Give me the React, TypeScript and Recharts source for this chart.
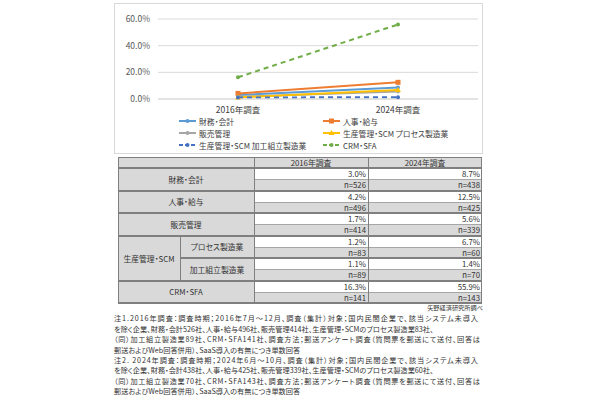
import React from 'react'
import { LineChart, Line, XAxis, YAxis, CartesianGrid, Legend } from 'recharts'

// survey rounds
const categories = ['2016年調査', '2024年調査']

// SaaS adoption rate (%) per system
const finance = [3.0, 8.7]
const hr = [4.2, 12.5]
const sales = [1.7, 5.6]
const scmProcess = [1.2, 6.7]
const scmAssembly = [1.1, 1.4]
const crm = [16.3, 55.9]

// sample sizes
const financeN = [526, 438]
const hrN = [496, 425]
const salesN = [414, 339]
const scmProcessN = [83, 60]
const scmAssemblyN = [89, 70]
const crmN = [141, 143]

const yTicks = [0, 20, 40, 60]

const notes = [
  '注1.2016年調査：調査時期；2016年7月～12月、調査（集計）対象；国内民間企業で、該当システム未導入',
  'を除く企業、財務・会計526社、人事・給与496社、販売管理414社、生産管理・SCMのプロセス製造業83社、',
  '（同）加工組立製造業89社、CRM・SFA141社、調査方法；郵送アンケート調査（質問票を郵送にて送付、回答は',
  '郵送およびWeb回答併用）、SaaS導入の有無につき単数回答',
  '注2. 2024年調査：調査時期；2024年6月～10月、調査（集計）対象；国内民間企業で、該当システム未導入',
  'を除く企業、財務・会計438社、人事・給与425社、販売管理339社、生産管理・SCMのプロセス製造業60社、',
  '（同）加工組立製造業70社、CRM・SFA143社、調査方法；郵送アンケート調査（質問票を郵送にて送付、回答は',
  '郵送およびWeb回答併用）、SaaS導入の有無につき単数回答',
]
// full-width lines are stretched to the text block width; others keep natural width
const noteWidths = [364, 0, 366, 0, 364, 0, 366, 0]

type Marker = 'circle' | 'square' | 'triangle'

const series: { key: string; name: string; color: string; dash?: string; marker: Marker; values: number[] }[] = [
  { key: 'finance', name: '財務・会計', color: '#5b9bd5', marker: 'circle', values: finance },
  { key: 'hr', name: '人事・給与', color: '#ed7d31', marker: 'square', values: hr },
  { key: 'sales', name: '販売管理', color: '#a5a5a5', marker: 'circle', values: sales },
  { key: 'scmProcess', name: '生産管理・SCM プロセス製造業', color: '#ffc000', marker: 'triangle', values: scmProcess },
  { key: 'scmAssembly', name: '生産管理・SCM 加工組立製造業', color: '#4472c4', dash: '5 4', marker: 'circle', values: scmAssembly },
  { key: 'crm', name: 'CRM・SFA', color: '#70ad47', dash: '5 4', marker: 'circle', values: crm },
]

const chartData = categories.map((cat, i) => {
  const row: Record<string, string | number> = { cat }
  series.forEach(s => { row[s.key] = s.values[i] })
  return row
})

const FONT = '"Noto Sans CJK JP", "Noto Sans", sans-serif'
const PALT = '"palt"'

function markerShape(shape: Marker, color: string, cx: number, cy: number, key?: string | number) {
  if (shape === 'square') return <rect key={key} x={cx - 2.5} y={cy - 2.5} width={5} height={5} fill={color} />
  if (shape === 'triangle')
    return <path key={key} d={`M${cx},${cy - 3}L${cx + 3},${cy + 2}L${cx - 3},${cy + 2}Z`} fill={color} />
  return <circle key={key} cx={cx} cy={cy} r={2} fill={color} />
}

function ChartLegend() {
  return (
    <div
      style={{
        position: 'relative',
        height: 36,
        fontFamily: FONT,
        fontSize: 7.8,
        color: '#404040',
        fontFeatureSettings: PALT,
      }}
    >
      {series.map((s, i) => {
        const col = i % 2
        const row = Math.floor(i / 2)
        return (
          <div
            key={s.key}
            style={{
              position: 'absolute',
              left: col === 0 ? 60 : 204,
              top: row * 12 - 3,
              height: 12,
              display: 'flex',
              alignItems: 'center',
              whiteSpace: 'nowrap',
            }}
          >
            <svg width={18} height={8} style={{ marginRight: 2 }}>
              <line x1={0} y1={4} x2={17} y2={4} stroke={s.color} strokeWidth={2} strokeDasharray={s.dash ? '4 2' : undefined} />
              {markerShape(s.marker, s.color, 8.5, 4)}
            </svg>
            {s.name}
          </div>
        )
      })}
    </div>
  )
}

// table layout
const colW = [62, 74, 114, 114]
const headH = 11
const groupH = 22.5
const tableRows = [
  { label: '財務・会計', values: finance, n: financeN },
  { label: '人事・給与', values: hr, n: hrN },
  { label: '販売管理', values: sales, n: salesN },
  { parent: '生産管理・SCM', label: 'プロセス製造業', values: scmProcess, n: scmProcessN },
  { parent: '生産管理・SCM', label: '加工組立製造業', values: scmAssembly, n: scmAssemblyN },
  { label: 'CRM・SFA', values: crm, n: crmN },
]

const GRAY = '#d9d9d9'
const LINE = '#7f7f7f'

function Cell({ x, y, w, h, bg, text, align = 'center' }: { x: number; y: number; w: number; h: number; bg: string; text?: string; align?: 'center' | 'right' }) {
  return (
    <div
      style={{
        position: 'absolute',
        left: x,
        top: y,
        width: w,
        height: h,
        background: bg,
        display: 'flex',
        alignItems: 'center',
        justifyContent: align === 'right' ? 'flex-end' : 'center',
        paddingRight: align === 'right' ? 2 : 0,
        boxSizing: 'border-box',
        whiteSpace: 'nowrap',
      }}
    >
      {text}
    </div>
  )
}

function HLine({ x, y, w, t = 1, c = LINE }: { x: number; y: number; w: number; t?: number; c?: string }) {
  return <div style={{ position: 'absolute', left: x, top: y, width: w, height: t, background: c }} />
}

function VLine({ x, y, h }: { x: number; y: number; h: number }) {
  return <div style={{ position: 'absolute', left: x, top: y, width: 1, height: h, background: LINE }} />
}

function DataTable() {
  const totalW = colW.reduce((a, b) => a + b, 0)
  const xSub = colW[0]
  const xV1 = colW[0] + colW[1]
  const xV2 = xV1 + colW[2]
  const totalH = headH + groupH * tableRows.length
  const cells: React.ReactNode[] = []
  const lines: React.ReactNode[] = []

  cells.push(<Cell key="h0" x={0} y={0} w={xV1} h={headH} bg={GRAY} />)
  categories.forEach((c, i) => {
    cells.push(<Cell key={'h' + (i + 1)} x={xV1 + colW[2] * i} y={0} w={colW[2 + i]} h={headH} bg={GRAY} text={c} />)
  })

  tableRows.forEach((r, g) => {
    const top = headH + g * groupH
    if (r.parent) {
      if (g === 3) cells.push(<Cell key={'p' + g} x={0} y={top} w={colW[0]} h={groupH * 2} bg={GRAY} text={r.parent} />)
      cells.push(<Cell key={'l' + g} x={xSub} y={top} w={colW[1]} h={groupH} bg={GRAY} text={r.label} />)
    } else {
      cells.push(<Cell key={'l' + g} x={0} y={top} w={xV1} h={groupH} bg={GRAY} text={r.label} />)
    }
    r.values.forEach((v, i) => {
      const x = i === 0 ? xV1 : xV2
      cells.push(<Cell key={`v${g}-${i}`} x={x} y={top} w={colW[2 + i]} h={groupH / 2} bg="#fff" text={v.toFixed(1) + '%'} align="right" />)
      cells.push(<Cell key={`n${g}-${i}`} x={x} y={top + groupH / 2} w={colW[2 + i]} h={groupH / 2} bg={GRAY} text={'n=' + r.n[i]} align="right" />)
    })
    lines.push(<HLine key={'s' + g} x={xV1} y={top + groupH / 2} w={totalW - xV1} c="#a6a6a6" />)
    const startX = g === 4 ? xSub : 0
    lines.push(<HLine key={'g' + g} x={startX} y={top - 1} w={totalW - startX} t={2} />)
  })

  lines.push(<HLine key="top" x={0} y={0} w={totalW} />)
  lines.push(<HLine key="bot" x={0} y={totalH - 1} w={totalW} t={2} />)
  ;[0, xV1, xV2, totalW - 1].forEach((x, i) => lines.push(<VLine key={'v' + i} x={x} y={0} h={totalH} />))
  lines.push(<VLine key="vsub" x={xSub} y={headH + 3 * groupH} h={groupH * 2} />)

  return (
    <div
      style={{
        position: 'absolute',
        left: 118,
        top: 157,
        width: totalW,
        height: totalH,
        fontFamily: FONT,
        fontSize: 7.8,
        color: '#333',
        fontFeatureSettings: PALT,
      }}
    >
      {cells}
      {lines}
    </div>
  )
}

function Notes() {
  return (
    <svg style={{ position: 'absolute', left: 0, top: 296, fontFeatureSettings: PALT }} width={600} height={104}>
      <text x={483} y={13.5} textAnchor="end" fontFamily={FONT} fontSize={6.2} fill="#333">
        矢野経済研究所調べ
      </text>
      {notes.map((t, i) => (
        <text
          key={i}
          x={114}
          y={25.2 + i * 10.45}
          textLength={noteWidths[i] || undefined}
          lengthAdjust={noteWidths[i] ? 'spacing' : undefined}
          fontFamily={FONT}
          fontSize={7.2}
          fill="#333"
        >
          {t}
        </text>
      ))}
    </svg>
  )
}

export default function App() {
  return (
    <div style={{ position: 'absolute', left: 0, top: 0, width: 600, height: 400, background: '#fff', overflow: 'hidden' }}>
      <div
        style={{
          position: 'absolute',
          left: 114,
          top: 3,
          width: 369,
          height: 151,
          border: '1px solid #d9d9d9',
          boxSizing: 'border-box',
        }}
      />
      <div style={{ position: 'absolute', left: 114, top: 3 }}>
        <LineChart width={369} height={151} data={chartData} margin={{ top: 16, right: 5, left: 5, bottom: 0 }}>
          <CartesianGrid vertical={false} stroke="#d9d9d9" />
          <XAxis
            dataKey="cat"
            padding={{ left: 80, right: 80 }}
            height={19}
            tickLine={false}
            axisLine={{ stroke: '#d9d9d9' }}
            tick={{ fontSize: 8.5, fill: '#404040', fontFamily: FONT }}
          />
          <YAxis
            width={39}
            domain={[0, 60]}
            ticks={yTicks}
            tickFormatter={(v: number) => v.toFixed(1) + '%'}
            axisLine={false}
            tickLine={false}
            tick={{ fontSize: 8.5, fill: '#595959', fontFamily: FONT }}
          />
          <Legend verticalAlign="bottom" content={() => <ChartLegend />} />
          {series.map(s => (
            <Line
              key={s.key}
              dataKey={s.key}
              name={s.name}
              stroke={s.color}
              strokeWidth={2}
              strokeDasharray={s.dash}
              dot={(p: any) => markerShape(s.marker, s.color, p.cx, p.cy, `${s.key}-${p.index}`)}
              isAnimationActive={false}
            />
          ))}
        </LineChart>
      </div>
      <DataTable />
      <Notes />
    </div>
  )
}
